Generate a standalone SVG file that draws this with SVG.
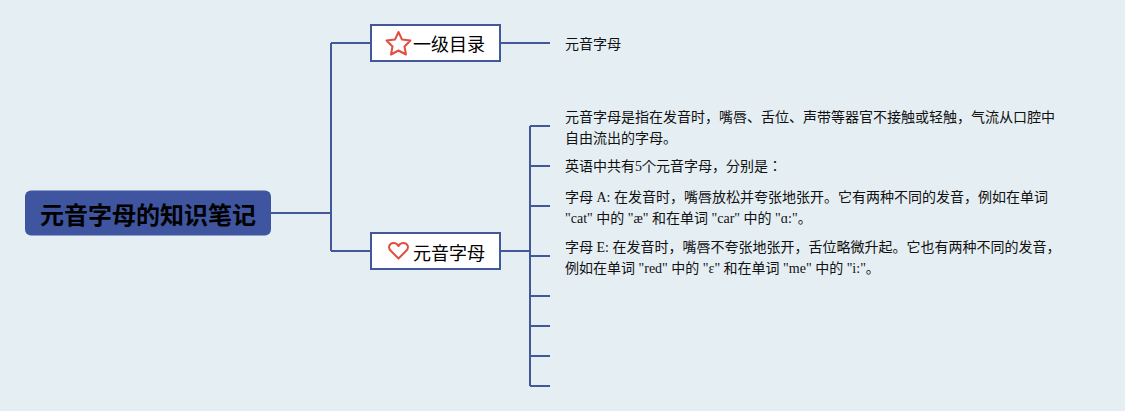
<svg xmlns="http://www.w3.org/2000/svg" width="1125" height="411" viewBox="0 0 1125 411">
<style>
.c{fill:none;stroke:#43589a;stroke-width:2}
.b{fill:#fff;stroke:#43589a;stroke-width:2}
.t{font-family:"Liberation Serif","Noto Sans CJK JP",sans-serif;font-size:14px;fill:#111}
.m{font-family:"Noto Sans CJK JP",sans-serif;font-size:18px;fill:#000}
.i{fill:none;stroke:#e04f3f;stroke-width:2;stroke-linejoin:round}
</style>
<rect width="1125" height="411" fill="#e5eef3"/>
<g id="connectors">
<path class="c" d="M271 213H331M331 43V251M331 43H371M331 251H371M500 43H550M500 251H530M530 126V386M530 126H550M530 166H550M530 206H550M530 256H550M530 296H550M530 326H550M530 356H550M530 386H550"/>
</g>
<g id="root">
<rect x="25" y="190.500" width="246" height="45" rx="6" fill="#3f559f"/>
<text x="148" y="224" text-anchor="middle" font-family="'Noto Sans CJK JP',sans-serif" font-size="24" font-weight="700" fill="#000">元音字母的知识笔记</text>
</g>
<g id="node-toc">
<rect class="b" x="371" y="25" width="129" height="36"/>
<path class="i" d="M398.500 32L402 39.500L410.500 40.500L404.500 46.500L406 54.500L398.500 50.500L391 54.500L392.500 46.500L386.500 40.500L395 39.500Z"/>
<text class="m" x="413" y="50.500">一级目录</text>
</g>
<g id="node-toc-child"><text class="t" x="565" y="49">元音字母</text></g>
<g id="node-vowel">
<rect class="b" x="371" y="233" width="129" height="36"/>
<path class="i" d="M398.500 258.500L391 251C387 247 390 243 393.500 243C396 243 397.500 244 398.500 246C399.500 244 401 243 403.500 243C407 243 410 247 406 251Z"/>
<text class="m" x="413" y="259.500">元音字母</text>
</g>
<g id="note-1"><text class="t"><tspan x="565" y="122">元音字母是指在发音时，嘴唇、舌位、声带等器官不接触或轻触，气流从口腔中</tspan><tspan x="565" y="143">自由流出的字母。</tspan></text></g>
<g id="note-2"><text class="t" x="565" y="171">英语中共有5个元音字母，分别是：</text></g>
<g id="note-3"><text class="t"><tspan x="565" y="202">字母 A: 在发音时，嘴唇放松并夸张地张开。它有两种不同的发音，例如在单词</tspan><tspan x="565" y="223">"cat" 中的 "æ" 和在单词 "car" 中的 "ɑ:"。</tspan></text></g>
<g id="note-4"><text class="t"><tspan x="565" y="252">字母 E: 在发音时，嘴唇不夸张地张开，舌位略微升起。它也有两种不同的发音，</tspan><tspan x="565" y="273">例如在单词 "red" 中的 "ɛ" 和在单词 "me" 中的 "i:"。</tspan></text></g>
</svg>
